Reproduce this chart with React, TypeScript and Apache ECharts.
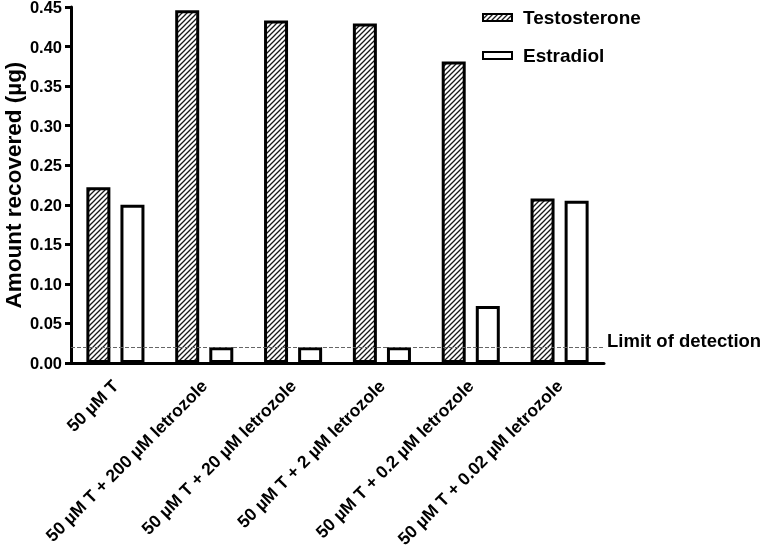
import React, { useEffect, useRef } from "react";
import * as echarts from "echarts";

const categories = [
  "50 \u00b5M T",
  "50 \u00b5M T + 200 \u00b5M letrozole",
  "50 \u00b5M T + 20 \u00b5M letrozole",
  "50 \u00b5M T + 2 \u00b5M letrozole",
  "50 \u00b5M T + 0.2 \u00b5M letrozole",
  "50 \u00b5M T + 0.02 \u00b5M letrozole",
];
const testosterone = [0.222, 0.446, 0.433, 0.429, 0.381, 0.208];
const estradiol = [0.2, 0.02, 0.02, 0.02, 0.072, 0.205];
const limitOfDetection = 0.02;
const yTicks = { min: 0, max: 0.45, interval: 0.05 };

const FONT = "'Liberation Sans', Arial, Helvetica, sans-serif";

function makeHatch(): HTMLCanvasElement {
  const s = 5;
  const c = document.createElement("canvas");
  c.width = s;
  c.height = s;
  const ctx = c.getContext("2d")!;
  ctx.fillStyle = "#ffffff";
  ctx.fillRect(0, 0, s, s);
  ctx.strokeStyle = "#1a1a1a";
  ctx.lineWidth = 1.3;
  ctx.beginPath();
  ctx.moveTo(-1, s + 1);
  ctx.lineTo(s + 1, -1);
  ctx.moveTo(-1, 1);
  ctx.lineTo(1, -1);
  ctx.moveTo(s - 1, s + 1);
  ctx.lineTo(s + 1, s - 1);
  ctx.stroke();
  return c;
}

export default function App() {
  const ref = useRef<HTMLDivElement>(null);
  useEffect(() => {
    if (!ref.current) return;
    const chart = echarts.init(ref.current, undefined, { renderer: "svg" });
    const hatch = makeHatch();
    chart.setOption({
      animation: false,
      textStyle: { fontFamily: FONT },
      grid: {
        left: 71,
        right: 161,
        top: 7,
        bottom: 188,
        containLabel: false,
        outerBoundsMode: "none",
      },
      legend: {
        orient: "vertical",
        left: 482,
        top: 8,
        padding: 0,
        itemWidth: 29,
        itemHeight: 7,
        itemGap: 19,
        icon: "rect",
        textStyle: {
          fontFamily: FONT,
          fontSize: 19,
          fontWeight: "bold",
          color: "#000",
          padding: [0, 0, 0, 6],
        },
        data: ["Testosterone", "Estradiol"],
      },
      xAxis: {
        type: "category",
        data: categories,
        axisLine: { lineStyle: { color: "#000", width: 3 } },
        axisTick: { alignWithLabel: true, length: 8, lineStyle: { color: "#000", width: 3 } },
        axisLabel: {
          rotate: 45,
          interval: 0,
          margin: 20,
          color: "#000",
          fontFamily: FONT,
          fontSize: 17.5,
          fontWeight: "bold",
        },
      },
      yAxis: {
        type: "value",
        min: yTicks.min,
        max: yTicks.max,
        interval: yTicks.interval,
        name: "Amount recovered (\u00b5g)",
        nameLocation: "middle",
        nameGap: 46,
        nameMoveOverlap: false,
        nameTextStyle: { fontFamily: FONT, fontSize: 22.5, fontWeight: "bold", color: "#000" },
        splitLine: { show: false },
        axisLine: { show: true, lineStyle: { color: "#000", width: 3 } },
        axisTick: { show: true, length: 6, lineStyle: { color: "#000", width: 3 } },
        axisLabel: {
          margin: 9,
          color: "#000",
          fontFamily: FONT,
          fontSize: 16.5,
          lineHeight: 12,
          fontWeight: "bold",
          formatter: (v: number) => v.toFixed(2),
        },
      },
      series: [
        {
          name: "Testosterone",
          type: "bar",
          data: testosterone,
          barWidth: 24,
          barGap: "42%",
          itemStyle: {
            color: { image: hatch, repeat: "repeat" },
            borderColor: "#000",
            borderWidth: 3,
          },
          markLine: {
            silent: true,
            symbol: "none",
            lineStyle: { color: "#666", type: "dashed", width: 1 },
            label: {
              show: true,
              position: "end",
              distance: 3,
              formatter: "Limit of detection",
              fontFamily: FONT,
              fontSize: 18.5,
              fontWeight: "bold",
              color: "#000",
              verticalAlign: "bottom",
              lineHeight: 14,
            },
            data: [{ yAxis: limitOfDetection }],
          },
        },
        {
          name: "Estradiol",
          type: "bar",
          data: estradiol,
          barWidth: 24,
          barGap: "42%",
          itemStyle: { color: "#fff", borderColor: "#000", borderWidth: 3 },
        },
      ],
    });
    return () => chart.dispose();
  }, []);
  return (
    <div
      ref={ref}
      style={{ position: "fixed", left: 0, top: 0, width: 765, height: 551 }}
    />
  );
}
